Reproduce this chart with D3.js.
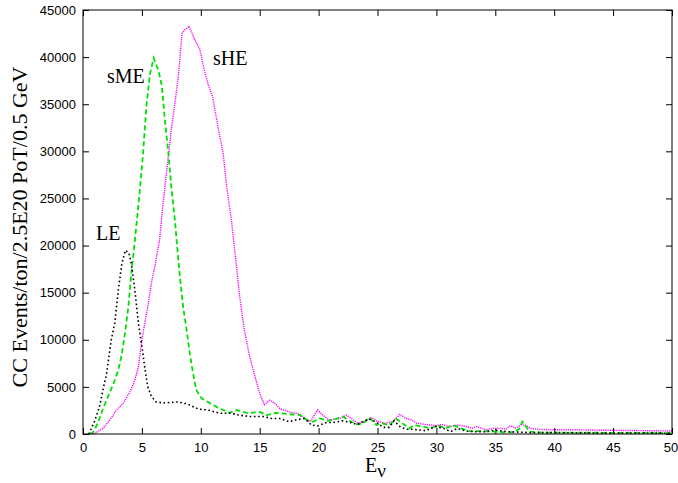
<!DOCTYPE html>
<html><head><meta charset="utf-8">
<script src="https://cdn.jsdelivr.net/npm/d3@7"></script>
<style>body{margin:0;background:#fff}svg{display:block}</style>
</head><body><svg id="c" width="678" height="483"></svg>
<script>
// ---- data (E in GeV, CC events / ton / 2.5E20 PoT / 0.5 GeV) ----
const leE = [0.5,1.0,1.4,1.7,2.0,2.4,2.7,3.0,3.3,3.6,3.9,4.1,4.4,4.7,5.0,5.25,5.5,5.8,6.2,6.8,7.5,8.0,8.5,9.0,9.8,10.6,11.6,12.5,13.3,14.2,15.3,16.0,16.7,17.5,18.1,18.8,19.4,19.9,20.6,21.4,22.0,22.6,23.3,23.9,24.3,24.9,25.5,26.0,26.4,26.9,27.4,28.0,28.7,29.1,29.9,30.6,31.2,31.8,32.5,33.3,34.2,35.0,36,37,38,40,42,45,48,50];
const leV = [0,1400,2900,4700,6400,10000,11800,15300,18100,19500,19200,18100,15300,11800,9300,7000,5000,4000,3400,3300,3350,3400,3300,3100,2650,2550,2200,2200,2000,1850,1850,1650,1650,1300,1500,1650,950,850,1200,1250,1400,1250,1000,1400,1600,1250,700,700,1400,800,500,500,400,350,800,600,250,600,300,250,250,400,250,200,150,150,120,100,100,80];

const smeE = [0.6,0.9,1.3,1.7,2.3,2.7,3.0,3.3,3.6,3.85,4.1,4.4,4.8,5.1,5.4,5.7,6.0,6.4,6.7,6.95,7.25,7.5,7.8,8.0,8.2,8.5,8.8,9.07,9.35,9.6,10.06,10.8,11.6,12.46,13.0,14.0,15.0,15.6,16.4,17.5,18.4,19.0,19.5,20.1,20.8,21.5,22.05,22.6,23.3,23.8,24.3,24.9,25.3,26.0,26.6,27.1,27.7,28.1,28.8,29.5,30.1,30.8,31.4,32.1,32.8,33.9,35.0,35.8,36.5,37.0,37.3,37.6,37.9,39,41,44,47,50];
const smeV = [0,250,1300,2700,4500,5700,6800,8500,11000,13500,17000,20500,25500,29800,35100,38300,39900,38600,36900,33300,29800,26200,22700,19800,17000,13500,11000,8500,6400,4700,3800,3250,2700,2250,2550,2200,2350,2000,2250,2100,2000,1500,1300,1650,1400,1600,1850,1400,1000,1150,1750,950,1150,950,1600,1150,600,950,800,600,900,600,950,600,300,300,250,180,200,500,1300,800,250,150,150,130,120,100];

const sheE = [0.8,1.0,1.7,2.3,2.85,3.4,4.0,4.4,4.7,5.0,5.25,5.5,5.8,6.1,6.5,6.8,7.2,7.5,7.8,8.1,8.4,8.65,9.0,9.2,9.5,9.9,10.3,10.6,11.0,11.5,11.9,12.2,12.6,13.0,13.3,13.7,14.15,14.6,15.0,15.4,15.85,16.3,16.7,17.5,18.4,19.0,19.3,19.9,20.5,20.9,21.8,22.35,22.8,23.3,23.9,24.5,24.9,25.6,26.3,26.9,27.4,27.9,28.3,29.1,30.0,30.5,31.1,31.9,32.5,33.1,33.4,34.2,34.9,35.5,35.9,36.3,36.7,37.2,37.6,38.0,38.6,40,42,44,46,48,50];
const sheV = [0,70,600,1500,2550,3250,4500,5700,7100,10000,11800,13500,16000,17800,20600,24500,29000,32300,35100,38000,42500,42900,43300,42700,41800,40900,38600,37200,35800,32300,29800,26200,22700,18100,14600,11000,8200,6100,4300,3100,3600,3250,2700,2350,2100,1500,1300,2550,1850,1500,1650,2000,1650,1150,1300,1750,1400,1150,1300,2100,1650,1500,1150,1000,900,1000,800,950,800,600,800,450,600,600,500,900,600,1000,900,600,500,450,450,400,380,350,320];

const xTicks = [0,5,10,15,20,25,30,35,40,45,50];
const yTicks = [0,5000,10000,15000,20000,25000,30000,35000,40000,45000];
const seriesNames = ["LE","sME","sHE"];

// ---- drawing ----
const svg = d3.select("#c");
const L=83, R=672, T=10, B=434;
const x = d3.scaleLinear().domain([0,50]).range([L,R]);
const y = d3.scaleLinear().domain([0,45000]).range([B,T]);

const tickFont = "'Liberation Sans', Arial, sans-serif";
const serif = "'Liberation Serif', 'Times New Roman', serif";

function styleAxis(g, labels){
  g.select(".domain").remove();
  g.selectAll(".tick line").attr("stroke","#000").attr("stroke-width",1);
  g.selectAll(".tick text").attr("fill","#000").style("font-family",tickFont).style("font-size","13px");
  if(!labels) g.selectAll(".tick text").remove();
}
svg.append("g").attr("transform",`translate(0,${B})`)
  .call(d3.axisBottom(x).tickValues(xTicks).tickFormat(d3.format("d")).tickSize(-6).tickPadding(9))
  .call(g=>styleAxis(g,true))
  .call(g=>g.selectAll(".tick text").filter(d=>d===50).attr("dx",-1.5));
svg.append("g").attr("transform",`translate(0,${T})`)
  .call(d3.axisTop(x).tickValues(xTicks).tickSize(-6))
  .call(g=>styleAxis(g,false));
svg.append("g").attr("transform",`translate(${L},0)`)
  .call(d3.axisLeft(y).tickValues(yTicks).tickFormat(d3.format("d")).tickSize(-6).tickPadding(7))
  .call(g=>styleAxis(g,true));
svg.append("g").attr("transform",`translate(${R},0)`)
  .call(d3.axisRight(y).tickValues(yTicks).tickSize(-6))
  .call(g=>styleAxis(g,false));

const line = d3.line().x(d=>x(d[0])).y(d=>y(d[1]));
const zip = (a,b)=>a.map((v,i)=>[v,b[i]]);

svg.append("path").datum(zip(sheE,sheV)).attr("d",line)
  .attr("fill","none").attr("stroke","#ff00ff").attr("stroke-width",1.4).attr("stroke-dasharray","1.2,1");
svg.append("path").datum(zip(smeE,smeV)).attr("d",line)
  .attr("fill","none").attr("stroke","#00e000").attr("stroke-width",1.8).attr("stroke-dasharray","5,3");
svg.append("path").datum(zip(leE,leV)).attr("d",line)
  .attr("fill","none").attr("stroke","#000").attr("stroke-width",1.6).attr("stroke-dasharray","1.6,2.6");

svg.append("rect").attr("x",L).attr("y",T).attr("width",R-L).attr("height",B-T)
  .attr("fill","none").attr("stroke","#000").attr("stroke-width",1);

// curve labels
const lab = [[seriesNames[0],96,240],[seriesNames[1],107,83],[seriesNames[2],213,65]];
svg.selectAll("text.lab").data(lab).enter().append("text").attr("class","lab")
  .attr("x",d=>d[1]).attr("y",d=>d[2]).text(d=>d[0])
  .style("font-family",serif).style("font-size","20px").attr("fill","#000");

// axis titles
svg.append("text").attr("transform","translate(27,227) rotate(-90)")
  .attr("text-anchor","middle").style("font-family",serif).style("font-size","22px")
  .text("CC Events/ton/2.5E20 PoT/0.5 GeV");
const xt = svg.append("text").attr("x",365).attr("y",472).style("font-family",serif).style("font-size","20px");
xt.append("tspan").text("E");
xt.append("tspan").attr("dy",5).style("font-size","19px").text("ν");
</script></body></html>
